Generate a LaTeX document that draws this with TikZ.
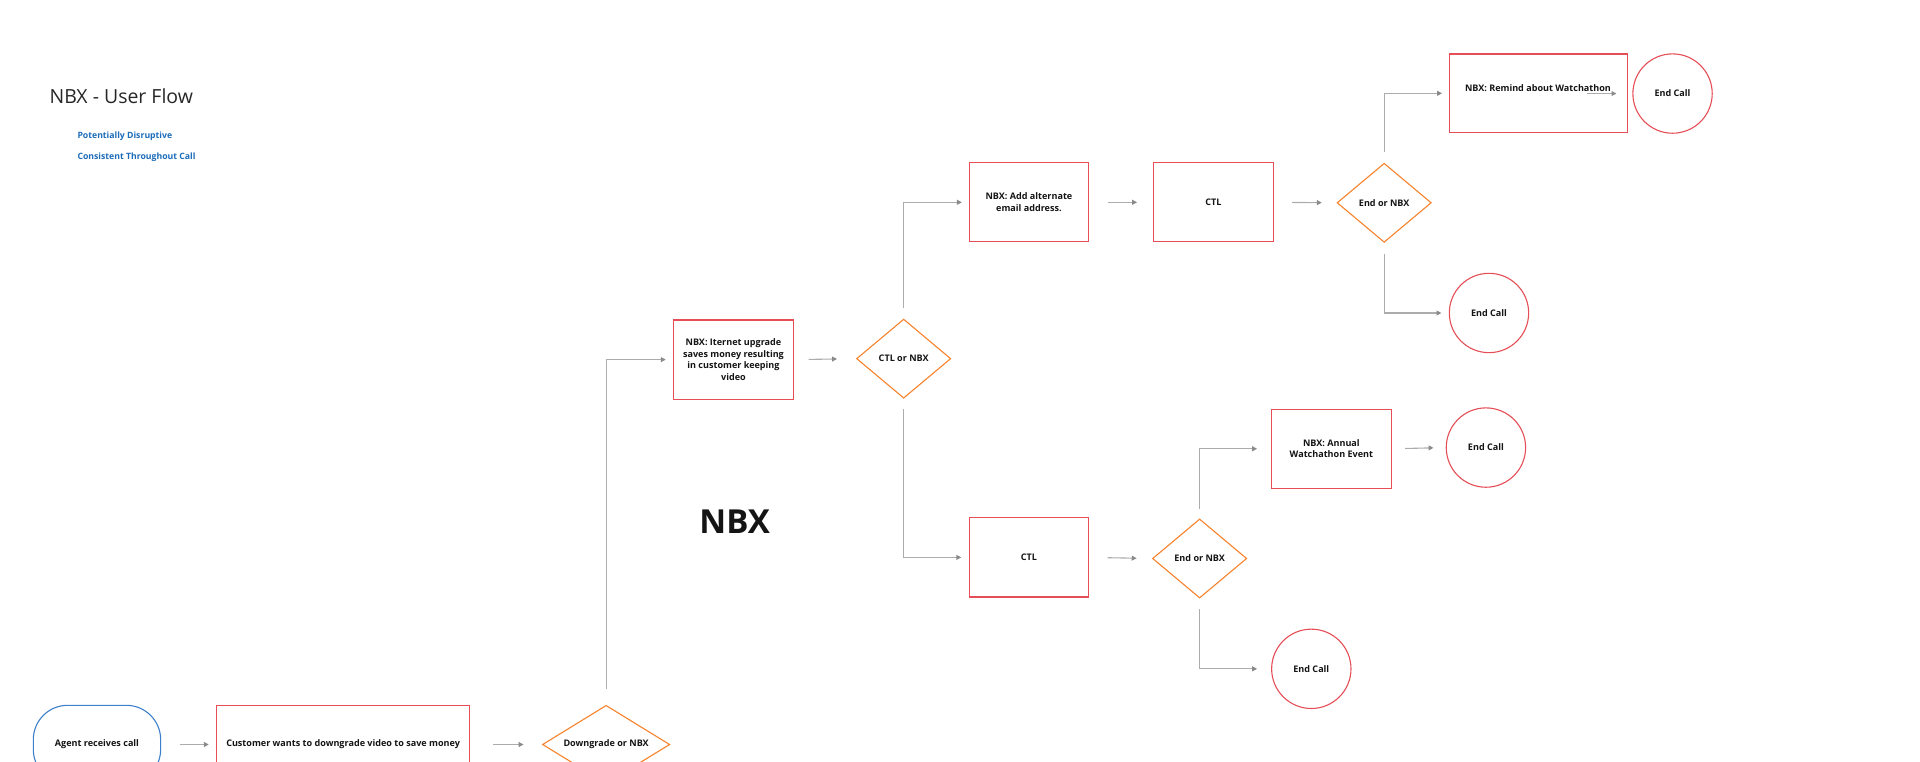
\documentclass[tikz,border=0pt]{standalone}
\usepackage{fontspec}
\setmainfont{Open Sans}
\usetikzlibrary{shapes.geometric,arrows.meta}
\definecolor{boxred}{RGB}{229,78,86}
\definecolor{dorange}{RGB}{246,130,44}
\definecolor{oblue}{RGB}{60,128,204}
\definecolor{tblue}{RGB}{28,108,186}
\definecolor{lgray}{RGB}{172,172,172}
\definecolor{tgray}{RGB}{138,138,138}
\definecolor{ttext}{RGB}{20,20,20}
\begin{document}
\begin{tikzpicture}[x=1pt,y=1pt,
  lblfont/.style={font=\bfseries\fontsize{7.4}{9.5}\selectfont, text=ttext},
  box/.style={draw=boxred, line width=0.9pt, minimum width=97.7pt, minimum height=64.7pt, inner sep=0pt, align=center, lblfont},
  dia/.style={diamond, draw=dorange, line width=0.9pt, aspect=1.4, minimum width=77pt, minimum height=64.6pt, inner sep=0pt, align=center, lblfont},
  endc/.style={circle, draw=boxred, line width=0.9pt, minimum size=64.8pt, inner sep=0pt, lblfont},
  startc/.style={draw=oblue, line width=0.9pt, rounded corners=28pt, minimum width=104pt, minimum height=64pt, inner sep=0pt, lblfont},
  arr/.style={draw=lgray, line width=0.9pt, -{Triangle[length=4pt,width=4pt,color=tgray]}},
]
\useasboundingbox (0,0) rectangle (1568,-621.5);

% header
\node[anchor=west, inner sep=0pt, font=\fontsize{15.9}{17}\selectfont, text=black!85] (title) at (40.3,-78.4) {NBX - User Flow};
\node[anchor=west, inner sep=0pt, font=\bfseries\fontsize{7.1}{9}\selectfont, text=tblue] (leg1) at (63.1,-111.6) {Potentially Disruptive};
\node[anchor=west, inner sep=0pt, font=\bfseries\fontsize{7.1}{9}\selectfont, text=tblue] (leg2) at (63.1,-128.2) {Consistent Throughout Call};

\node[font=\bfseries\fontsize{27}{30}\selectfont, text=ttext] (nbx) at (600,-426) {NBX};

% bottom row
\node[startc] (agent) at (79.2,-608) {Agent receives call};
\node[box, minimum width=206.5pt, minimum height=64pt] (cust) at (280.2,-608) {Customer wants to downgrade video to save money};
\node[dia, aspect=1.625, minimum width=104pt, minimum height=64pt] (dd) at (495,-608) {Downgrade or NBX};

% middle
\node[box] (inet) at (599,-293.7) {NBX: Iternet upgrade\\saves money resulting\\in customer keeping\\video};
\node[dia] (cn) at (738,-292.9) {CTL or NBX};

% upper branch
\node[box] (add) at (840.3,-165.2) {NBX: Add alternate\\email address.};
\node[box] (ctla) at (990.9,-165.2) {CTL};
\node[dia] (ena) at (1130.4,-165.6) {End or NBX};
\node[box, minimum width=145.3pt, minimum height=64.2pt] (remind) at (1256.25,-76.2) {};
\node[lblfont] (remindt) at (1256,-71.6) {NBX: Remind about Watchathon};
\node[endc] (enda) at (1365.9,-76.4) {End Call};
\node[endc] (endb) at (1216,-255.6) {End Call};

% lower branch
\node[box] (ctlb) at (840.3,-455.2) {CTL};
\node[dia] (enb) at (979.7,-456.1) {End or NBX};
\node[box] (annual) at (1087.3,-366.5) {NBX: Annual\\Watchathon Event};
\node[endc] (endc1) at (1213.5,-365.5) {End Call};
\node[endc] (endd) at (1070.9,-546.2) {End Call};

\coordinate (rstart) at (1296,-76.4);

% connectors
\draw[arr, shorten <=15pt, shorten >=6pt] (agent.east) -- (cust.west);
\draw[arr, shorten <=19pt, shorten >=15pt] (cust.east) -- (dd.west);
\draw[arr, shorten <=13pt, shorten >=6pt] (dd.north) |- (inet.west);
\draw[arr, shorten <=12pt, shorten >=15.5pt] (inet.east) -- (cn.west);
\draw[arr, shorten <=9pt, shorten >=5.5pt] (cn.north) |- (add.west);
\draw[arr, shorten <=8pt, shorten >=6pt] (cn.south) |- (ctlb.west);
\draw[arr, shorten <=15pt, shorten >=13pt] (add.east) -- (ctla.west);
\draw[arr, shorten <=15pt, shorten >=12pt] (ctla.east) -- (ena.west);
\draw[arr, shorten <=9pt, shorten >=5.5pt] (ena.north) |- (remind.west);
\draw[arr, shorten <=9pt, shorten >=6pt] (ena.south) |- (endb.west);
\draw[arr, shorten >=13pt] (rstart) -- (enda.west);
\draw[arr, shorten <=15pt, shorten >=12.5pt] (ctlb.east) -- (enb.west);
\draw[arr, shorten <=8pt, shorten >=11.4pt] (enb.north) |- (annual.west);
\draw[arr, shorten <=8.4pt, shorten >=11.4pt] (enb.south) |- (endd.west);
\draw[arr, shorten <=11pt, shorten >=10pt] (annual.east) -- (endc1.west);
\end{tikzpicture}
\end{document}
